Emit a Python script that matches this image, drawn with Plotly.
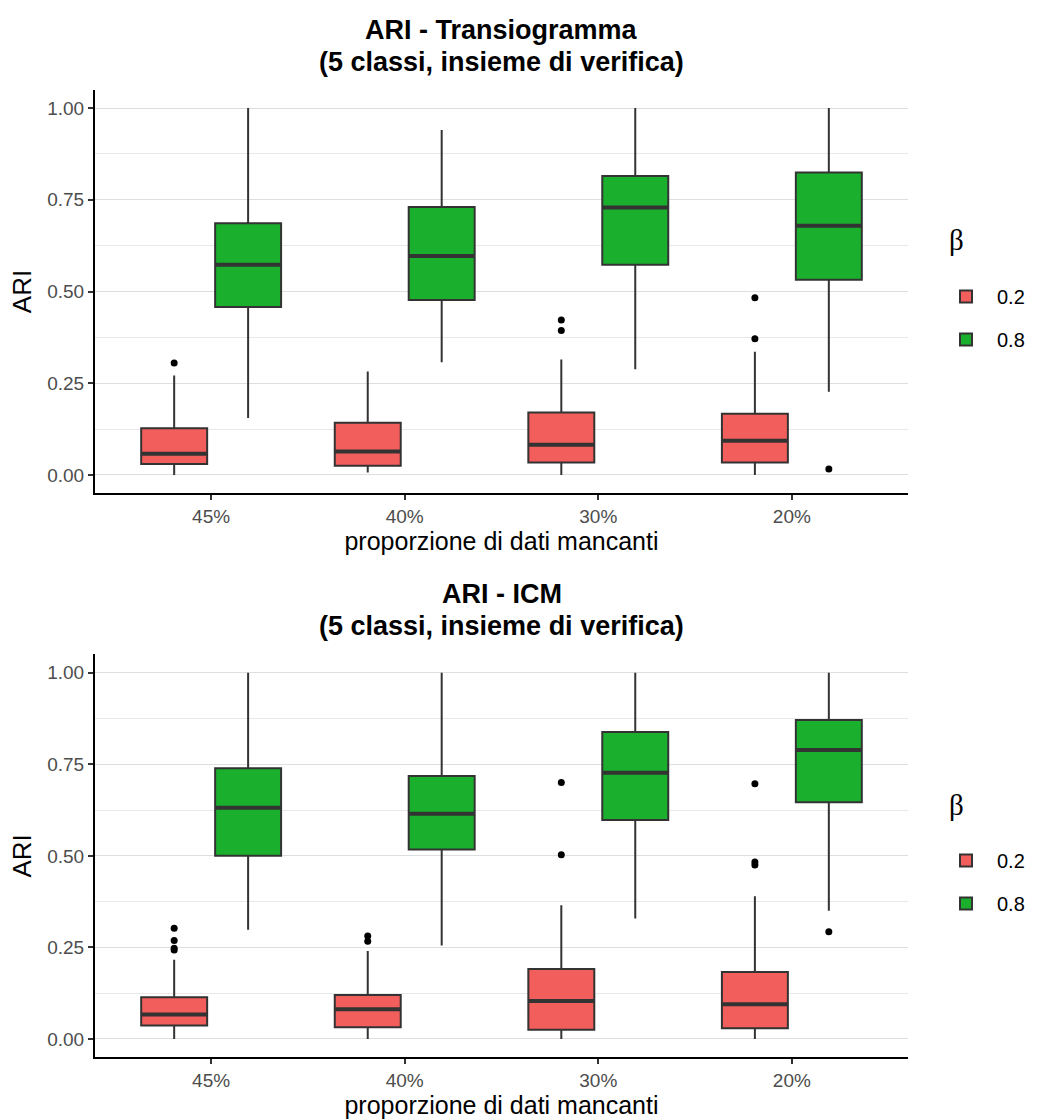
import plotly.graph_objects as go

categories = ["45%", "40%", "30%", "20%"]
betas = ["0.2", "0.8"]

# Panel 1: ARI - Transiogramma
t_lo_02 = [0.000, 0.007, 0.000, 0.000]
t_q1_02 = [0.030, 0.025, 0.034, 0.034]
t_med_02 = [0.058, 0.064, 0.082, 0.093]
t_q3_02 = [0.127, 0.142, 0.170, 0.167]
t_hi_02 = [0.271, 0.282, 0.315, 0.336]
t_out_x_02 = ["45%", "30%", "30%", "20%", "20%"]
t_out_y_02 = [0.305, 0.422, 0.394, 0.483, 0.371]

t_lo_08 = [0.155, 0.307, 0.288, 0.227]
t_q1_08 = [0.458, 0.477, 0.573, 0.532]
t_med_08 = [0.573, 0.597, 0.729, 0.679]
t_q3_08 = [0.686, 0.730, 0.815, 0.824]
t_hi_08 = [1.000, 0.940, 1.000, 1.000]
t_out_x_08 = ["20%"]
t_out_y_08 = [0.016]

# Panel 2: ARI - ICM
i_lo_02 = [0.000, 0.000, 0.000, 0.000]
i_q1_02 = [0.037, 0.032, 0.025, 0.029]
i_med_02 = [0.067, 0.081, 0.104, 0.095]
i_q3_02 = [0.114, 0.120, 0.191, 0.183]
i_hi_02 = [0.216, 0.240, 0.365, 0.390]
i_out_x_02 = ["45%", "45%", "45%", "45%", "40%", "40%", "30%", "30%", "20%", "20%", "20%"]
i_out_y_02 = [0.302, 0.269, 0.248, 0.243, 0.281, 0.267, 0.700, 0.503, 0.697, 0.483, 0.475]

i_lo_08 = [0.298, 0.255, 0.329, 0.350]
i_q1_08 = [0.500, 0.517, 0.598, 0.646]
i_med_08 = [0.631, 0.615, 0.727, 0.789]
i_q3_08 = [0.739, 0.718, 0.838, 0.871]
i_hi_08 = [1.000, 1.000, 1.000, 1.000]
i_out_x_08 = ["20%"]
i_out_y_08 = [0.293]

titles = [["ARI - Transiogramma", "(5 classi, insieme di verifica)"],
          ["ARI - ICM", "(5 classi, insieme di verifica)"]]
y_ticks = [0, 0.25, 0.5, 0.75, 1.0]

colors = {"0.2": "#F25E5B", "0.8": "#1AB02E"}
EDGE = "#333333"
FONT = "Liberation Sans, Arial, sans-serif"

panels = [
    dict(ax="", leg="legend",
         stats={"0.2": (t_lo_02, t_q1_02, t_med_02, t_q3_02, t_hi_02, t_out_x_02, t_out_y_02),
                "0.8": (t_lo_08, t_q1_08, t_med_08, t_q3_08, t_hi_08, t_out_x_08, t_out_y_08)}),
    dict(ax="2", leg="legend2",
         stats={"0.2": (i_lo_02, i_q1_02, i_med_02, i_q3_02, i_hi_02, i_out_x_02, i_out_y_02),
                "0.8": (i_lo_08, i_q1_08, i_med_08, i_q3_08, i_hi_08, i_out_x_08, i_out_y_08)}),
]

fig = go.Figure()
for p in panels:
    xa, ya = "x" + p["ax"], "y" + p["ax"]
    for b in betas:
        lo, q1, med, q3, hi, ox, oy = p["stats"][b]
        fig.add_trace(go.Box(
            x=categories, q1=q1, median=med, q3=q3, lowerfence=lo, upperfence=hi,
            name=b, fillcolor=colors[b], line=dict(color=EDGE, width=2),
            whiskerwidth=0, boxpoints=False, offsetgroup=b,
            xaxis=xa, yaxis=ya, legend=p["leg"], legendgroup=p["leg"] + b,
            hoverinfo="skip"))
        # thicker median line (ggplot style)
        fig.add_trace(go.Box(
            x=categories, q1=med, median=med, q3=med, lowerfence=med, upperfence=med,
            name=b, fillcolor=colors[b], line=dict(color=EDGE, width=4),
            whiskerwidth=0, boxpoints=False, offsetgroup=b, showlegend=False,
            xaxis=xa, yaxis=ya, legendgroup=p["leg"] + b, legend=p["leg"],
            hoverinfo="skip"))
        fig.add_trace(go.Scatter(
            x=ox, y=oy, mode="markers", marker=dict(color="black", size=7),
            offsetgroup=b, showlegend=False, xaxis=xa, yaxis=ya,
            hoverinfo="skip"))

W, H = 1041, 1119
x_dom = [95 / W, 908 / W]
top_dom = [(H - 493.3) / H, (H - 89.7) / H]
bot_dom = [(H - 1057.3) / H, (H - 654.4) / H]

xcommon = dict(type="category", categoryorder="array", categoryarray=categories,
               range=[-0.6, 3.6], showgrid=False, zeroline=False,
               showline=True, linecolor="black", linewidth=2,
               ticks="outside", ticklen=5, tickwidth=2, tickcolor="#333333",
               tickfont=dict(family=FONT, size=19, color="#4D4D4D"),
               title=dict(text="proporzione di dati mancanti", standoff=1,
                          font=dict(family=FONT, size=25, color="black")),
               domain=x_dom)
ycommon = dict(range=[-0.05, 1.05], tickvals=y_ticks, tickformat=".2f",
               showgrid=True, gridcolor="#DEDEDE", gridwidth=1, zeroline=False,
               minor=dict(dtick=0.125, tick0=0, showgrid=True, gridcolor="#E8E8E8", gridwidth=1),
               showline=True, linecolor="black", linewidth=2,
               ticks="outside", ticklen=5, tickwidth=2, tickcolor="#333333",
               tickfont=dict(family=FONT, size=19, color="#4D4D4D"),
               title=dict(text="ARI", standoff=8,
                          font=dict(family=FONT, size=26, color="black")))

leg_common = dict(xanchor="left", yanchor="top", itemwidth=52,
                  font=dict(family=FONT, size=20, color="black"),
                  tracegroupgap=14, bgcolor="rgba(0,0,0,0)")

fig.update_layout(
    width=W, height=H, margin=dict(l=0, r=0, t=0, b=0),
    paper_bgcolor="white", plot_bgcolor="white",
    boxmode="group", boxgap=0.236, boxgroupgap=0.108,
    scattermode="group", scattergap=0.236,
    xaxis=dict(xcommon, anchor="y"),
    yaxis=dict(ycommon, anchor="x", domain=top_dom),
    xaxis2=dict(xcommon, anchor="y2"),
    yaxis2=dict(ycommon, anchor="x2", domain=bot_dom),
    legend=dict(leg_common, x=935 / W, y=(H - 277) / H),
    legend2=dict(leg_common, x=935 / W, y=(H - 841) / H),
    showlegend=True,
)

# legend titles (β) placed above each legend
for yy in [240, 805]:
    fig.add_annotation(text="β", x=947 / W, y=(H - yy) / H, xref="paper", yref="paper",
                       xanchor="left", yanchor="middle", showarrow=False,
                       font=dict(family="Liberation Serif, serif", size=29, color="black"))

cx = (x_dom[0] + x_dom[1]) / 2
for (l1, l2), y1, y2 in [(titles[0], 30, 62), (titles[1], 594, 626)]:
    for txt, yy in [(l1, y1), (l2, y2)]:
        fig.add_annotation(text="<b>" + txt + "</b>", x=cx, y=(H - yy) / H,
                           xref="paper", yref="paper", xanchor="center", yanchor="middle",
                           showarrow=False, font=dict(family=FONT, size=27, color="black"))

fig.write_html("out.html")
